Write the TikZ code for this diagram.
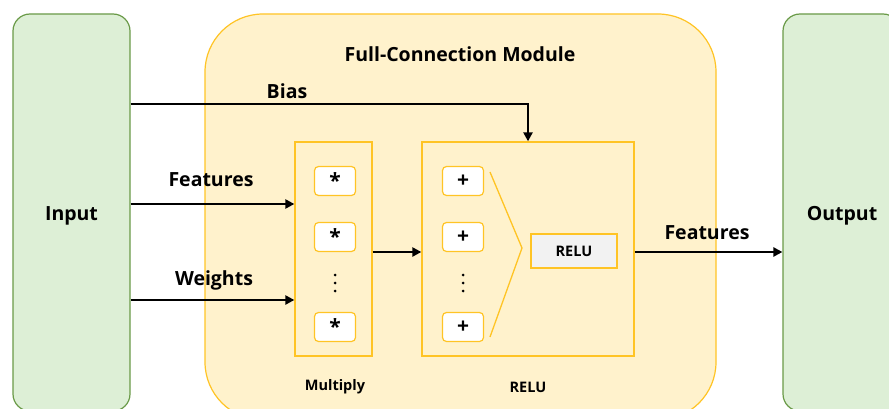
\documentclass[tikz,border=0pt]{standalone}
\usepackage{fontspec}
\setmainfont{Open Sans}
\usetikzlibrary{arrows.meta}
\definecolor{grfill}{HTML}{DDEFD6}
\definecolor{grline}{HTML}{6A9A48}
\definecolor{ylfill}{HTML}{FFF2CC}
\definecolor{ylline}{HTML}{FFC425}
\definecolor{relufill}{HTML}{F2F2F2}
\tikzset{
  io/.style={draw=grline, fill=grfill, line width=1.2pt, rounded corners=17pt,
    minimum width=117pt, inner sep=0pt},
  module/.style={draw=ylline, fill=ylfill, line width=1.2pt, rounded corners=58pt,
    minimum width=511pt, minimum height=406pt, inner sep=0pt},
  unit/.style={draw=ylline, line width=1.3pt, minimum width=77pt, minimum height=214pt, inner sep=0pt},
  opbox/.style={draw=ylline, fill=white, line width=1.2pt, rounded corners=4pt,
    minimum width=41pt, minimum height=29pt, inner sep=0pt, font=\fontsize{21}{23}\selectfont\bfseries},
  lbl/.style={font=\fontsize{19.5}{22}\selectfont\bfseries, inner sep=0pt},
  small/.style={font=\fontsize{14.5}{17}\selectfont\bfseries, inner sep=0pt},
  arr/.style={line width=2.6pt, -{Triangle[length=9pt,width=9pt]}},
  dot/.style={fill=black, circle, inner sep=0pt, minimum size=3pt},
}
\begin{document}
\begin{tikzpicture}[x=1pt,y=-1pt]
\useasboundingbox (0,0) rectangle (889,409);
\clip (0,0) rectangle (889,409);

% input / output blocks
\node[io, minimum height=397pt] (in) at (71.5,212.5) {};
\node[lbl] (intxt) at (71.5,216) {Input};
\node[io, minimum height=397pt] (out) at (841.5,212.5) {};
\node[lbl] (outtxt) at (842,216) {Output};

% full-connection module
\node[module] (fc) at (460.5,217) {};
\node[lbl] (title) at (460,54) {Full-Connection Module};

% multiply unit
\node[unit] (mul) at (333.5,249) {};
\node[opbox] (m1) at (335,181) {\raisebox{-3pt}{*}};
\node[opbox] (m2) at (335,237) {\raisebox{-3pt}{*}};
\foreach \yy [count=\i] in {275,283,291} \node[dot] (md\i) at (335,\yy) {};
\node[opbox] (m3) at (335,327) {\raisebox{-3pt}{*}};
\node[small] (multxt) at (335,387) {Multiply};

% add + relu unit
\node[unit, minimum width=212pt] (relu) at (528,249) {};
\node[opbox] (p1) at (463,181) {+};
\node[opbox] (p2) at (463,237) {+};
\foreach \yy [count=\i] in {275,283,291} \node[dot] (pd\i) at (463,\yy) {};
\node[opbox] (p3) at (463,327) {+};
\coordinate (c1) at (490,172);
\coordinate (c2) at (522,248);
\coordinate (c3) at (490,337);
\draw[ylline, line width=1.3pt] (c1) -- (c2) -- (c3);
\node[draw=ylline, fill=relufill, line width=1.3pt, minimum width=86pt, minimum height=34pt,
  inner sep=0pt, font=\fontsize{14.5}{17}\selectfont\bfseries] (act) at (574,251) {RELU};
\node[small] (relutxt) at (528,387) {RELU};

% connections
\draw[arr] (in.east |- 0,104) -| (relu.north);
\node[lbl] (biastxt) at (287,91) {Bias};
\draw[arr] (in.east |- 0,204) -- (mul.west |- 0,204);
\node[lbl] (feattxt) at (211,180) {Features};
\draw[arr] (in.east |- 0,300) -- (mul.west |- 0,300);
\node[lbl] (wtxt) at (214,280) {Weights};
\draw[arr] (mul.east |- 0,252) -- (relu.west |- 0,252);
\draw[arr] (relu.east |- 0,252) -- (out.west |- 0,252);
\node[lbl] (ftxt2) at (707,233) {Features};
\end{tikzpicture}
\end{document}
